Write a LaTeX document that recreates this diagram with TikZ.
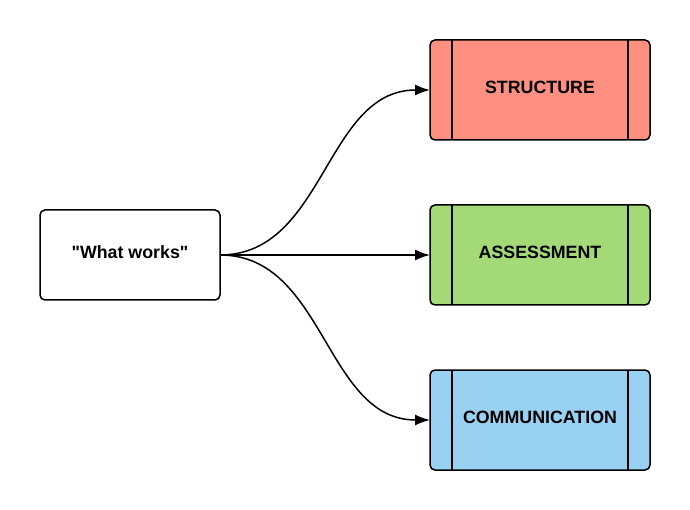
\documentclass[tikz,border=0pt]{standalone}
\usepackage{fontspec}
\setmainfont{Liberation Sans}
\usetikzlibrary{arrows.meta,calc}
\definecolor{redsoft}{RGB}{255,143,128}
\definecolor{greensoft}{RGB}{163,217,119}
\definecolor{bluesoft}{RGB}{153,209,242}
\tikzset{
  card/.style={draw,line width=1.5pt,rounded corners=5pt,outer sep=0pt,
    minimum width=220pt,minimum height=100pt,text depth=5pt,
    font=\fontsize{17.8}{21}\selectfont\bfseries},
  link/.style={line width=1.5pt,-{Latex[length=15pt,width=11pt]}}
}
\newcommand{\stage}[4]{% name y colour label: card 220x100 with side bars
  \node[card,fill=#3] (#1) at (540,#2){#4};
  \draw[line width=1.5pt] ($(#1.north west)+(22,0)$) -- ($(#1.south west)+(22,0)$);
  \draw[line width=1.5pt] ($(#1.north east)+(-22,0)$) -- ($(#1.south east)+(-22,0)$);
}

\begin{document}
\begin{tikzpicture}[x=1pt,y=-1pt]
  \useasboundingbox (0,0) rectangle (690,510);
  \node[card,fill=white,minimum width=180pt,minimum height=90pt] (works) at (130,255){\textquotedbl What works\textquotedbl};
  \stage{structure}{90}{redsoft}{STRUCTURE}
  \stage{assessment}{255}{greensoft}{ASSESSMENT}
  \stage{communication}{420}{bluesoft}{COMMUNICATION}
  \draw[link] (works.east) .. controls +(105,0) and +(-105,0) .. (structure.west);
  \draw[link] (works.east) -- (assessment.west);
  \draw[link] (works.east) .. controls +(105,0) and +(-105,0) .. (communication.west);
\end{tikzpicture}
\end{document}
